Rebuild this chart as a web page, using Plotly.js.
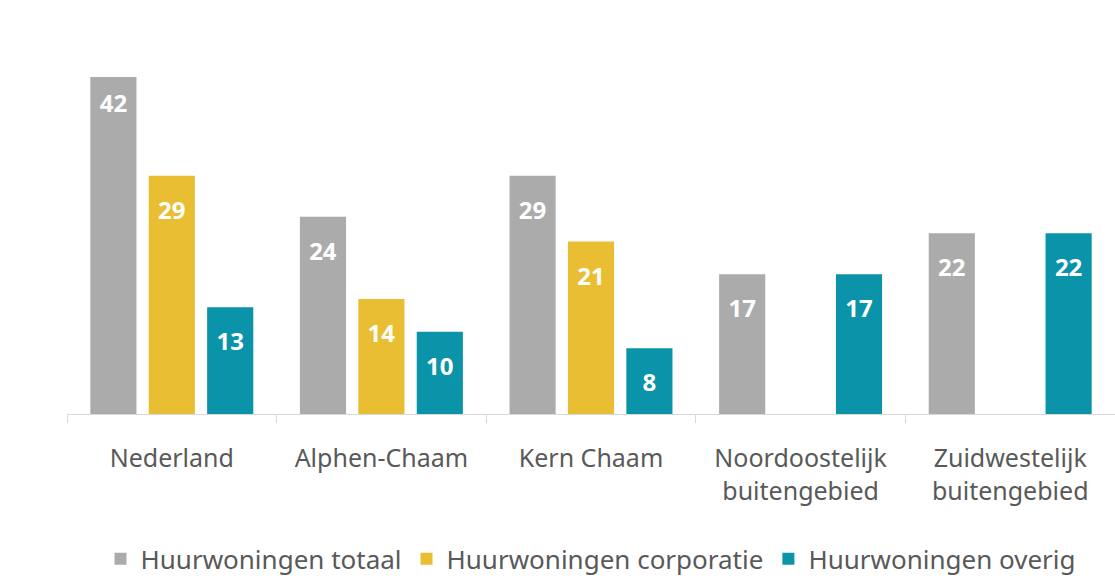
<!DOCTYPE html>
<html>
<head>
<meta charset="utf-8">
<script src="https://cdn.plot.ly/plotly-3.0.1.min.js"></script>
<style>html,body{margin:0;padding:0;overflow:hidden;background:#fff;}</style>
</head>
<body>
<div id="chart" style="width:1115px;height:585px;"></div>
<script>
const categories = ["Nederland", "Alphen-Chaam", "Kern Chaam", "Noordoostelijk<br>buitengebied", "Zuidwestelijk<br>buitengebied"];
const seriesNames = ["Huurwoningen totaal", "Huurwoningen corporatie", "Huurwoningen overig"];
const totaal = [42, 24, 29, 17, 22];
const corporatie = [29, 14, 21, null, null];
const overig = [13, 10, 8, 17, 22];
const colors = ["#ABABAB", "#E9BE32", "#0A93A9"];

const FONT = "'Noto Sans', 'Open Sans', sans-serif";
function mk(vals, i) {
  return {
    type: "bar",
    name: seriesNames[i],
    x: categories,
    y: vals,
    marker: {color: colors[i]},
    text: vals.map(v => v === null ? "" : "<span style='font-size:8px'>\u00a0</span><br>" + v),
    textposition: "inside",
    insidetextanchor: "end",
    textangle: 0,
    texttemplate: "%{text}",
    textfont: {family: FONT, size: 24, color: "#ffffff", weight: "bold"},
    hoverinfo: "skip"
  };
}
const data = [mk(totaal, 0), mk(corporatie, 1), mk(overig, 2)];
const layout = {
  width: 1115, height: 585,
  margin: {l: 67, r: 0, t: 77, b: 171},
  paper_bgcolor: "#ffffff", plot_bgcolor: "#ffffff",
  barmode: "group",
  bargap: 0.164,
  bargroupgap: 0.21,
  showlegend: true,
  legend: {orientation: "h", x: 0.5, xanchor: "center", y: -0.43, yanchor: "middle",
           font: {family: FONT, size: 26, color: "#595959"}, itemwidth: 30, tracegroupgap: 0},
  xaxis: {
    type: "category",
    tickson: "boundaries",
    ticks: "outside", ticklen: 8, tickcolor: "#D9D9D9", tickwidth: 1,
    showline: true, linecolor: "#D9D9D9", linewidth: 1,
    ticklabelstandoff: 22,
    tickfont: {family: FONT, size: 25, color: "#595959"},
    showgrid: false, zeroline: false, fixedrange: true
  },
  yaxis: {
    range: [0, 41], visible: false, showgrid: false, zeroline: false, fixedrange: true
  },
  font: {family: FONT}
};
Plotly.newPlot("chart", data, layout, {staticPlot: true, displayModeBar: false});
</script>
</body>
</html>
